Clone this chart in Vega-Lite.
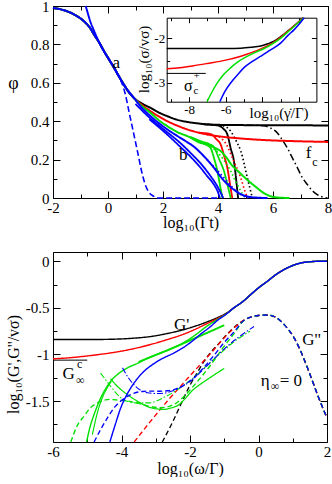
{
"$schema": "https://vega.github.io/schema/vega-lite/v6.json",
"background": "white",
"padding": {"left": 4, "top": -2, "right": 0, "bottom": 0},
"spacing": 20,
"config": {
  "font": "Liberation Serif",
  "view": {"stroke": "black", "strokeWidth": 1},
  "axis": {"labelFont": "Liberation Serif", "titleFont": "Liberation Serif", "labelColor": "black", "titleColor": "black", "tickColor": "black", "domainColor": "black", "grid": false, "labelFontSize": 15, "titleFontSize": 16, "titleFontWeight": "normal", "labelOverlap": false, "labelFlush": false, "labelBound": false, "tickWidth": 1, "domainWidth": 1},
  "text": {"font": "Liberation Serif", "color": "black"}
},
"datasets": {
  "phi": [
    {"set":"A","kind":"full","x":-2,"y":0.99},{"set":"A","kind":"full","x":-1.6,"y":0.978},{"set":"A","kind":"full","x":-1.36,"y":0.965},{"set":"A","kind":"full","x":-1.1,"y":0.945},{"set":"A","kind":"full","x":-0.87,"y":0.92},{"set":"A","kind":"full","x":-0.65,"y":0.885},{"set":"A","kind":"full","x":-0.51,"y":0.852},{"set":"A","kind":"full","x":-0.3,"y":0.805},{"set":"A","kind":"full","x":-0.145,"y":0.765},{"set":"A","kind":"full","x":0.05,"y":0.718},{"set":"A","kind":"full","x":0.22,"y":0.678},{"set":"A","kind":"full","x":0.4,"y":0.633},{"set":"A","kind":"full","x":0.58,"y":0.59},{"set":"A","kind":"full","x":0.75,"y":0.553},{"set":"A","kind":"full","x":0.95,"y":0.52},
    {"set":"A","kind":"full","x":1.2,"y":0.495},{"set":"A","kind":"full","x":1.55,"y":0.469},{"set":"A","kind":"full","x":1.85,"y":0.445},{"set":"A","kind":"full","x":2.16,"y":0.426},{"set":"A","kind":"full","x":2.5,"y":0.408},{"set":"A","kind":"full","x":2.89,"y":0.396},{"set":"A","kind":"full","x":3.3,"y":0.388},{"set":"A","kind":"full","x":3.61,"y":0.383},{"set":"A","kind":"full","x":4.5,"y":0.38},{"set":"A","kind":"full","x":6,"y":0.379},{"set":"A","kind":"full","x":8,"y":0.378},
    {"set":"A","kind":"thinB1","x":3.4,"y":0.385},{"set":"A","kind":"thinB1","x":3.98,"y":0.378},{"set":"A","kind":"thinB1","x":4.2,"y":0.36},{"set":"A","kind":"thinB1","x":4.34,"y":0.331},{"set":"A","kind":"thinB1","x":4.46,"y":0.26},{"set":"A","kind":"thinB1","x":4.58,"y":0.191},{"set":"A","kind":"thinB1","x":4.68,"y":0.07},{"set":"A","kind":"thinB1","x":4.73,"y":0},
    {"set":"A","kind":"dotted","x":3.6,"y":0.383},{"set":"A","kind":"dotted","x":4.2,"y":0.375},{"set":"A","kind":"dotted","x":4.46,"y":0.348},{"set":"A","kind":"dotted","x":4.65,"y":0.3},{"set":"A","kind":"dotted","x":4.83,"y":0.244},{"set":"A","kind":"dotted","x":5.07,"y":0.104},{"set":"A","kind":"dotted","x":5.18,"y":0.04},{"set":"A","kind":"dotted","x":5.25,"y":0},
    {"set":"A","kind":"dashdot","x":4.5,"y":0.38},{"set":"A","kind":"dashdot","x":5.3,"y":0.379},{"set":"A","kind":"dashdot","x":5.67,"y":0.376},{"set":"A","kind":"dashdot","x":5.9,"y":0.365},{"set":"A","kind":"dashdot","x":6.16,"y":0.339},{"set":"A","kind":"dashdot","x":6.35,"y":0.3},{"set":"A","kind":"dashdot","x":6.52,"y":0.261},{"set":"A","kind":"dashdot","x":6.7,"y":0.21},{"set":"A","kind":"dashdot","x":6.89,"y":0.157},{"set":"A","kind":"dashdot","x":7.05,"y":0.11},{"set":"A","kind":"dashdot","x":7.25,"y":0.07},{"set":"A","kind":"dashdot","x":7.45,"y":0.035},{"set":"A","kind":"dashdot","x":7.61,"y":0.018},{"set":"A","kind":"dashdot","x":7.8,"y":0.005},{"set":"A","kind":"dashdot","x":7.98,"y":0},
    {"set":"B","kind":"full","x":-2,"y":0.99},{"set":"B","kind":"full","x":-1.6,"y":0.978},{"set":"B","kind":"full","x":-1.36,"y":0.965},{"set":"B","kind":"full","x":-1.1,"y":0.945},{"set":"B","kind":"full","x":-0.87,"y":0.92},{"set":"B","kind":"full","x":-0.65,"y":0.885},{"set":"B","kind":"full","x":-0.51,"y":0.852},{"set":"B","kind":"full","x":-0.3,"y":0.805},{"set":"B","kind":"full","x":-0.145,"y":0.765},{"set":"B","kind":"full","x":0.05,"y":0.718},{"set":"B","kind":"full","x":0.22,"y":0.678},{"set":"B","kind":"full","x":0.4,"y":0.633},{"set":"B","kind":"full","x":0.58,"y":0.59},{"set":"B","kind":"full","x":0.75,"y":0.553},{"set":"B","kind":"full","x":0.95,"y":0.52},
    {"set":"B","kind":"full","x":1.2,"y":0.488},{"set":"B","kind":"full","x":1.55,"y":0.452},{"set":"B","kind":"full","x":1.85,"y":0.425},{"set":"B","kind":"full","x":2.16,"y":0.4},{"set":"B","kind":"full","x":2.5,"y":0.378},{"set":"B","kind":"full","x":2.89,"y":0.357},{"set":"B","kind":"full","x":3.25,"y":0.342},{"set":"B","kind":"full","x":3.61,"y":0.331},{"set":"B","kind":"full","x":4.1,"y":0.32},{"set":"B","kind":"full","x":4.58,"y":0.313},{"set":"B","kind":"full","x":5.2,"y":0.306},{"set":"B","kind":"full","x":5.8,"y":0.301},{"set":"B","kind":"full","x":6.8,"y":0.296},{"set":"B","kind":"full","x":8,"y":0.292},
    {"set":"B","kind":"thinB1","x":3.3,"y":0.34},{"set":"B","kind":"thinB1","x":3.73,"y":0.333},{"set":"B","kind":"thinB1","x":3.95,"y":0.305},{"set":"B","kind":"thinB1","x":4.1,"y":0.278},{"set":"B","kind":"thinB1","x":4.22,"y":0.22},{"set":"B","kind":"thinB1","x":4.34,"y":0.157},{"set":"B","kind":"thinB1","x":4.45,"y":0.06},{"set":"B","kind":"thinB1","x":4.52,"y":0},
    {"set":"B","kind":"dotted","x":3.6,"y":0.33},{"set":"B","kind":"dotted","x":4.0,"y":0.32},{"set":"B","kind":"dotted","x":4.3,"y":0.28},{"set":"B","kind":"dotted","x":4.55,"y":0.2},{"set":"B","kind":"dotted","x":4.83,"y":0.104},{"set":"B","kind":"dotted","x":4.97,"y":0.04},{"set":"B","kind":"dotted","x":5.07,"y":0},
    {"set":"C","kind":"full","x":-2,"y":0.99},{"set":"C","kind":"full","x":-1.6,"y":0.978},{"set":"C","kind":"full","x":-1.36,"y":0.965},{"set":"C","kind":"full","x":-1.1,"y":0.945},{"set":"C","kind":"full","x":-0.87,"y":0.92},{"set":"C","kind":"full","x":-0.65,"y":0.885},{"set":"C","kind":"full","x":-0.51,"y":0.852},{"set":"C","kind":"full","x":-0.3,"y":0.805},{"set":"C","kind":"full","x":-0.145,"y":0.765},{"set":"C","kind":"full","x":0.05,"y":0.718},{"set":"C","kind":"full","x":0.22,"y":0.678},{"set":"C","kind":"full","x":0.4,"y":0.633},{"set":"C","kind":"full","x":0.58,"y":0.59},{"set":"C","kind":"full","x":0.75,"y":0.553},{"set":"C","kind":"full","x":0.95,"y":0.52},
    {"set":"C","kind":"full","x":1.2,"y":0.482},{"set":"C","kind":"full","x":1.55,"y":0.443},{"set":"C","kind":"full","x":1.85,"y":0.405},{"set":"C","kind":"full","x":2.16,"y":0.374},{"set":"C","kind":"full","x":2.5,"y":0.345},{"set":"C","kind":"full","x":2.89,"y":0.322},{"set":"C","kind":"full","x":3.25,"y":0.3},{"set":"C","kind":"full","x":3.61,"y":0.278},{"set":"C","kind":"full","x":3.9,"y":0.26},{"set":"C","kind":"full","x":4.1,"y":0.244},{"set":"C","kind":"full","x":4.3,"y":0.212},{"set":"C","kind":"full","x":4.5,"y":0.172},{"set":"C","kind":"full","x":4.8,"y":0.13},{"set":"C","kind":"full","x":5.07,"y":0.094},{"set":"C","kind":"full","x":5.4,"y":0.055},{"set":"C","kind":"full","x":5.67,"y":0.025},{"set":"C","kind":"full","x":5.9,"y":0.01},{"set":"C","kind":"full","x":6.2,"y":0.002},{"set":"C","kind":"full","x":6.6,"y":0},
    {"set":"C","kind":"thinB1","x":3.0,"y":0.315},{"set":"C","kind":"thinB1","x":3.3,"y":0.29},{"set":"C","kind":"thinB1","x":3.6,"y":0.275},{"set":"C","kind":"thinB1","x":3.73,"y":0.261},{"set":"C","kind":"thinB1","x":3.87,"y":0.2},{"set":"C","kind":"thinB1","x":3.98,"y":0.139},{"set":"C","kind":"thinB1","x":4.08,"y":0.06},{"set":"C","kind":"thinB1","x":4.16,"y":0},
    {"set":"C","kind":"thinB2","x":3.0,"y":0.318},{"set":"C","kind":"thinB2","x":3.4,"y":0.295},{"set":"C","kind":"thinB2","x":3.7,"y":0.28},{"set":"C","kind":"thinB2","x":3.85,"y":0.265},{"set":"C","kind":"thinB2","x":4.05,"y":0.2},{"set":"C","kind":"thinB2","x":4.22,"y":0.139},{"set":"C","kind":"thinB2","x":4.36,"y":0.06},{"set":"C","kind":"thinB2","x":4.46,"y":0},
    {"set":"C","kind":"dotted","x":3.6,"y":0.28},{"set":"C","kind":"dotted","x":3.9,"y":0.25},{"set":"C","kind":"dotted","x":4.2,"y":0.2},{"set":"C","kind":"dotted","x":4.46,"y":0.14},{"set":"C","kind":"dotted","x":4.7,"y":0.07},{"set":"C","kind":"dotted","x":4.9,"y":0.02},{"set":"C","kind":"dotted","x":5.0,"y":0},
    {"set":"D","kind":"full","x":-2,"y":0.99},{"set":"D","kind":"full","x":-1.6,"y":0.978},{"set":"D","kind":"full","x":-1.36,"y":0.965},{"set":"D","kind":"full","x":-1.1,"y":0.945},{"set":"D","kind":"full","x":-0.87,"y":0.92},{"set":"D","kind":"full","x":-0.65,"y":0.885},{"set":"D","kind":"full","x":-0.51,"y":0.852},{"set":"D","kind":"full","x":-0.3,"y":0.805},{"set":"D","kind":"full","x":-0.145,"y":0.765},{"set":"D","kind":"full","x":0.05,"y":0.718},{"set":"D","kind":"full","x":0.22,"y":0.678},{"set":"D","kind":"full","x":0.4,"y":0.633},{"set":"D","kind":"full","x":0.58,"y":0.59},{"set":"D","kind":"full","x":0.75,"y":0.553},{"set":"D","kind":"full","x":0.95,"y":0.52},
    {"set":"D","kind":"full","x":1.2,"y":0.475},{"set":"D","kind":"full","x":1.55,"y":0.426},{"set":"D","kind":"full","x":1.85,"y":0.39},{"set":"D","kind":"full","x":2.16,"y":0.357},{"set":"D","kind":"full","x":2.5,"y":0.325},{"set":"D","kind":"full","x":2.89,"y":0.29},{"set":"D","kind":"full","x":3.1,"y":0.27},{"set":"D","kind":"full","x":3.37,"y":0.235},{"set":"D","kind":"full","x":3.6,"y":0.2},{"set":"D","kind":"full","x":3.85,"y":0.158},{"set":"D","kind":"full","x":4.1,"y":0.11},{"set":"D","kind":"full","x":4.34,"y":0.072},{"set":"D","kind":"full","x":4.58,"y":0.043},{"set":"D","kind":"full","x":4.83,"y":0.02},{"set":"D","kind":"full","x":5.07,"y":0.008},{"set":"D","kind":"full","x":5.4,"y":0.002},{"set":"D","kind":"full","x":5.8,"y":0},
    {"set":"D","kind":"thinA","x":-0.81,"y":1.0},{"set":"D","kind":"thinA","x":-0.73,"y":0.96},{"set":"D","kind":"thinA","x":-0.65,"y":0.922},{"set":"D","kind":"thinA","x":-0.52,"y":0.875},{"set":"D","kind":"thinA","x":-0.4,"y":0.835},{"set":"D","kind":"thinA","x":-0.25,"y":0.79},{"set":"D","kind":"thinA","x":-0.1,"y":0.752},{"set":"D","kind":"thinA","x":0.05,"y":0.72},{"set":"D","kind":"thinA","x":0.22,"y":0.678},{"set":"D","kind":"thinA","x":0.58,"y":0.59},{"set":"D","kind":"thinA","x":0.95,"y":0.52},
    {"set":"D","kind":"thinB1","x":1.0,"y":0.49},{"set":"D","kind":"thinB1","x":1.5,"y":0.42},{"set":"D","kind":"thinB1","x":2.0,"y":0.36},{"set":"D","kind":"thinB1","x":2.64,"y":0.285},{"set":"D","kind":"thinB1","x":3.0,"y":0.235},{"set":"D","kind":"thinB1","x":3.37,"y":0.18},{"set":"D","kind":"thinB1","x":3.7,"y":0.12},{"set":"D","kind":"thinB1","x":3.98,"y":0.06},{"set":"D","kind":"thinB1","x":4.19,"y":0},
    {"set":"D","kind":"thinB2","x":1.5,"y":0.41},{"set":"D","kind":"thinB2","x":2.0,"y":0.35},{"set":"D","kind":"thinB2","x":2.64,"y":0.265},{"set":"D","kind":"thinB2","x":3.0,"y":0.215},{"set":"D","kind":"thinB2","x":3.37,"y":0.157},{"set":"D","kind":"thinB2","x":3.6,"y":0.115},{"set":"D","kind":"thinB2","x":3.85,"y":0.07},{"set":"D","kind":"thinB2","x":4.0,"y":0.03},{"set":"D","kind":"thinB2","x":4.07,"y":0},
    {"set":"D","kind":"dotted","x":3.6,"y":0.2},{"set":"D","kind":"dotted","x":4.0,"y":0.14},{"set":"D","kind":"dotted","x":4.34,"y":0.085},{"set":"D","kind":"dotted","x":4.6,"y":0.045},{"set":"D","kind":"dotted","x":4.83,"y":0.018},{"set":"D","kind":"dotted","x":5.1,"y":0},
    {"set":"D","kind":"dashed","x":0.3,"y":0.655},{"set":"D","kind":"dashed","x":0.5,"y":0.6},{"set":"D","kind":"dashed","x":0.64,"y":0.535},{"set":"D","kind":"dashed","x":0.77,"y":0.445},{"set":"D","kind":"dashed","x":0.89,"y":0.365},{"set":"D","kind":"dashed","x":1.07,"y":0.244},{"set":"D","kind":"dashed","x":1.25,"y":0.122},{"set":"D","kind":"dashed","x":1.38,"y":0.06},{"set":"D","kind":"dashed","x":1.49,"y":0.03},{"set":"D","kind":"dashed","x":1.65,"y":0.01},{"set":"D","kind":"dashed","x":1.85,"y":0},{"set":"D","kind":"dashed","x":4.0,"y":0}
  ],
  "sigma": [
    {"set":"A","kind":"full","x":-9.22,"y":-2.226},{"set":"A","kind":"full","x":-8,"y":-2.226},{"set":"A","kind":"full","x":-7,"y":-2.226},{"set":"A","kind":"full","x":-6,"y":-2.225},{"set":"A","kind":"full","x":-5.17,"y":-2.22},{"set":"A","kind":"full","x":-4.6,"y":-2.2},{"set":"A","kind":"full","x":-4.08,"y":-2.17},{"set":"A","kind":"full","x":-3.7,"y":-2.12},{"set":"A","kind":"full","x":-3.36,"y":-2.06},{"set":"A","kind":"full","x":-3.0,"y":-1.96},{"set":"A","kind":"full","x":-2.62,"y":-1.835},{"set":"A","kind":"full","x":-2.2,"y":-1.69},{"set":"A","kind":"full","x":-1.79,"y":-1.53},
    {"set":"A","kind":"ref","x":-9.22,"y":-2.79},{"set":"A","kind":"ref","x":-7.09,"y":-2.79},
    {"set":"B","kind":"full","x":-9.22,"y":-2.686},{"set":"B","kind":"full","x":-8.5,"y":-2.66},{"set":"B","kind":"full","x":-7.8,"y":-2.62},{"set":"B","kind":"full","x":-7.0,"y":-2.565},{"set":"B","kind":"full","x":-6.0,"y":-2.49},{"set":"B","kind":"full","x":-5.17,"y":-2.4},{"set":"B","kind":"full","x":-4.6,"y":-2.32},{"set":"B","kind":"full","x":-4.08,"y":-2.235},{"set":"B","kind":"full","x":-3.7,"y":-2.16},{"set":"B","kind":"full","x":-3.36,"y":-2.08},{"set":"B","kind":"full","x":-3.0,"y":-1.975},{"set":"B","kind":"full","x":-2.62,"y":-1.84},{"set":"B","kind":"full","x":-2.2,"y":-1.69},{"set":"B","kind":"full","x":-1.77,"y":-1.53},
    {"set":"C","kind":"full","x":-7.02,"y":-3.43},{"set":"C","kind":"full","x":-6.8,"y":-3.25},{"set":"C","kind":"full","x":-6.45,"y":-3.0},{"set":"C","kind":"full","x":-6.1,"y":-2.81},{"set":"C","kind":"full","x":-5.72,"y":-2.66},{"set":"C","kind":"full","x":-5.3,"y":-2.52},{"set":"C","kind":"full","x":-4.81,"y":-2.4},{"set":"C","kind":"full","x":-4.35,"y":-2.31},{"set":"C","kind":"full","x":-3.9,"y":-2.226},{"set":"C","kind":"full","x":-3.45,"y":-2.12},{"set":"C","kind":"full","x":-2.99,"y":-1.99},{"set":"C","kind":"full","x":-2.6,"y":-1.85},{"set":"C","kind":"full","x":-2.2,"y":-1.7},{"set":"C","kind":"full","x":-1.74,"y":-1.53},
    {"set":"D","kind":"full","x":-6.32,"y":-3.43},{"set":"D","kind":"full","x":-6.05,"y":-3.2},{"set":"D","kind":"full","x":-5.72,"y":-3.0},{"set":"D","kind":"full","x":-5.35,"y":-2.82},{"set":"D","kind":"full","x":-5.0,"y":-2.66},{"set":"D","kind":"full","x":-4.55,"y":-2.52},{"set":"D","kind":"full","x":-4.08,"y":-2.4},{"set":"D","kind":"full","x":-3.55,"y":-2.26},{"set":"D","kind":"full","x":-2.99,"y":-2.1},{"set":"D","kind":"full","x":-2.6,"y":-1.93},{"set":"D","kind":"full","x":-2.26,"y":-1.8},{"set":"D","kind":"full","x":-2.0,"y":-1.68},{"set":"D","kind":"full","x":-1.77,"y":-1.56},{"set":"D","kind":"full","x":-1.72,"y":-1.53}
  ],
  "G": [
    {"set":"A","kind":"Gp","x":-6,"y":-0.84},{"set":"A","kind":"Gp","x":-5,"y":-0.84},{"set":"A","kind":"Gp","x":-4.2,"y":-0.836},{"set":"A","kind":"Gp","x":-3.63,"y":-0.825},{"set":"A","kind":"Gp","x":-3.1,"y":-0.805},{"set":"A","kind":"Gp","x":-2.66,"y":-0.775},{"set":"A","kind":"Gp","x":-2.2,"y":-0.735},{"set":"A","kind":"Gp","x":-1.88,"y":-0.7},{"set":"A","kind":"Gp","x":-1.5,"y":-0.65},{"set":"A","kind":"Gp","x":-1.2,"y":-0.605},{"set":"A","kind":"Gp","x":-0.95,"y":-0.56},
    {"set":"A","kind":"Gp","x":-0.72,"y":-0.5},{"set":"A","kind":"Gp","x":-0.45,"y":-0.43},{"set":"A","kind":"Gp","x":-0.23,"y":-0.358},{"set":"A","kind":"Gp","x":0,"y":-0.285},{"set":"A","kind":"Gp","x":0.26,"y":-0.214},{"set":"A","kind":"Gp","x":0.5,"y":-0.145},{"set":"A","kind":"Gp","x":0.74,"y":-0.09},{"set":"A","kind":"Gp","x":1.0,"y":-0.045},{"set":"A","kind":"Gp","x":1.23,"y":-0.018},{"set":"A","kind":"Gp","x":1.5,"y":-0.005},{"set":"A","kind":"Gp","x":1.72,"y":0},{"set":"A","kind":"Gp","x":2,"y":0},
    {"set":"A","kind":"Gpp","x":-2.81,"y":-1.94},{"set":"A","kind":"Gpp","x":-2.5,"y":-1.72},{"set":"A","kind":"Gpp","x":-2.27,"y":-1.537},{"set":"A","kind":"Gpp","x":-2.0,"y":-1.33},{"set":"A","kind":"Gpp","x":-1.78,"y":-1.19},{"set":"A","kind":"Gpp","x":-1.6,"y":-1.08},{"set":"A","kind":"Gpp","x":-1.4,"y":-0.98},{"set":"A","kind":"Gpp","x":-1.2,"y":-0.9},{"set":"A","kind":"Gpp","x":-0.91,"y":-0.78},{"set":"A","kind":"Gpp","x":-0.65,"y":-0.69},
    {"set":"A","kind":"Gpp","x":-0.42,"y":-0.632},{"set":"A","kind":"Gpp","x":-0.2,"y":-0.597},{"set":"A","kind":"Gpp","x":0,"y":-0.582},{"set":"A","kind":"Gpp","x":0.26,"y":-0.576},{"set":"A","kind":"Gpp","x":0.5,"y":-0.6},{"set":"A","kind":"Gpp","x":0.75,"y":-0.68},{"set":"A","kind":"Gpp","x":1.04,"y":-0.822},{"set":"A","kind":"Gpp","x":1.25,"y":-0.98},{"set":"A","kind":"Gpp","x":1.43,"y":-1.144},{"set":"A","kind":"Gpp","x":1.6,"y":-1.31},{"set":"A","kind":"Gpp","x":1.72,"y":-1.43},{"set":"A","kind":"Gpp","x":1.86,"y":-1.56},{"set":"A","kind":"Gpp","x":2,"y":-1.68},
    {"set":"A","kind":"ref","x":-6,"y":-1.061},{"set":"A","kind":"ref","x":-5.0,"y":-1.061},
    {"set":"B","kind":"Gp","x":-6,"y":-1.047},{"set":"B","kind":"Gp","x":-5.5,"y":-1.035},{"set":"B","kind":"Gp","x":-5.09,"y":-1.02},{"set":"B","kind":"Gp","x":-4.6,"y":-0.998},{"set":"B","kind":"Gp","x":-4.12,"y":-0.972},{"set":"B","kind":"Gp","x":-3.63,"y":-0.937},{"set":"B","kind":"Gp","x":-3.15,"y":-0.893},{"set":"B","kind":"Gp","x":-2.66,"y":-0.84},{"set":"B","kind":"Gp","x":-2.17,"y":-0.78},{"set":"B","kind":"Gp","x":-1.88,"y":-0.735},{"set":"B","kind":"Gp","x":-1.5,"y":-0.668},{"set":"B","kind":"Gp","x":-1.2,"y":-0.615},{"set":"B","kind":"Gp","x":-0.95,"y":-0.565},
    {"set":"B","kind":"Gp","x":-0.72,"y":-0.5},{"set":"B","kind":"Gp","x":-0.45,"y":-0.43},{"set":"B","kind":"Gp","x":-0.23,"y":-0.358},{"set":"B","kind":"Gp","x":0,"y":-0.285},{"set":"B","kind":"Gp","x":0.26,"y":-0.214},{"set":"B","kind":"Gp","x":0.5,"y":-0.145},{"set":"B","kind":"Gp","x":0.74,"y":-0.09},{"set":"B","kind":"Gp","x":1.0,"y":-0.045},{"set":"B","kind":"Gp","x":1.23,"y":-0.018},{"set":"B","kind":"Gp","x":1.5,"y":-0.005},{"set":"B","kind":"Gp","x":1.72,"y":0},{"set":"B","kind":"Gp","x":2,"y":0},
    {"set":"B","kind":"Gpp","x":-3.63,"y":-1.94},{"set":"B","kind":"Gpp","x":-3.2,"y":-1.74},{"set":"B","kind":"Gpp","x":-2.66,"y":-1.5},{"set":"B","kind":"Gpp","x":-2.2,"y":-1.31},{"set":"B","kind":"Gpp","x":-1.88,"y":-1.18},{"set":"B","kind":"Gpp","x":-1.69,"y":-1.105},{"set":"B","kind":"Gpp","x":-1.4,"y":-0.99},{"set":"B","kind":"Gpp","x":-1.2,"y":-0.905},{"set":"B","kind":"Gpp","x":-0.91,"y":-0.785},{"set":"B","kind":"Gpp","x":-0.65,"y":-0.695},
    {"set":"B","kind":"Gpp","x":-0.42,"y":-0.632},{"set":"B","kind":"Gpp","x":-0.2,"y":-0.597},{"set":"B","kind":"Gpp","x":0,"y":-0.582},{"set":"B","kind":"Gpp","x":0.26,"y":-0.576},{"set":"B","kind":"Gpp","x":0.5,"y":-0.6},{"set":"B","kind":"Gpp","x":0.75,"y":-0.68},{"set":"B","kind":"Gpp","x":1.04,"y":-0.822},{"set":"B","kind":"Gpp","x":1.25,"y":-0.98},{"set":"B","kind":"Gpp","x":1.43,"y":-1.144},{"set":"B","kind":"Gpp","x":1.6,"y":-1.31},{"set":"B","kind":"Gpp","x":1.72,"y":-1.43},{"set":"B","kind":"Gpp","x":1.86,"y":-1.56},{"set":"B","kind":"Gpp","x":2,"y":-1.68},
    {"set":"C","kind":"Gp","x":-5.02,"y":-1.94},{"set":"C","kind":"Gp","x":-4.92,"y":-1.78},{"set":"C","kind":"Gp","x":-4.8,"y":-1.644},{"set":"C","kind":"Gp","x":-4.61,"y":-1.47},{"set":"C","kind":"Gp","x":-4.45,"y":-1.36},{"set":"C","kind":"Gp","x":-4.32,"y":-1.29},{"set":"C","kind":"Gp","x":-4.1,"y":-1.21},{"set":"C","kind":"Gp","x":-3.83,"y":-1.145},{"set":"C","kind":"Gp","x":-3.5,"y":-1.09},{"set":"C","kind":"Gp","x":-3.24,"y":-1.04},{"set":"C","kind":"Gp","x":-2.9,"y":-0.99},{"set":"C","kind":"Gp","x":-2.56,"y":-0.94},{"set":"C","kind":"Gp","x":-2.17,"y":-0.87},{"set":"C","kind":"Gp","x":-1.88,"y":-0.8},{"set":"C","kind":"Gp","x":-1.5,"y":-0.695},{"set":"C","kind":"Gp","x":-1.2,"y":-0.625},{"set":"C","kind":"Gp","x":-0.95,"y":-0.568},
    {"set":"C","kind":"Gp","x":-0.72,"y":-0.5},{"set":"C","kind":"Gp","x":-0.45,"y":-0.43},{"set":"C","kind":"Gp","x":-0.23,"y":-0.358},{"set":"C","kind":"Gp","x":0,"y":-0.285},{"set":"C","kind":"Gp","x":0.26,"y":-0.214},{"set":"C","kind":"Gp","x":0.5,"y":-0.145},{"set":"C","kind":"Gp","x":0.74,"y":-0.09},{"set":"C","kind":"Gp","x":1.0,"y":-0.045},{"set":"C","kind":"Gp","x":1.23,"y":-0.018},{"set":"C","kind":"Gp","x":1.5,"y":-0.005},{"set":"C","kind":"Gp","x":1.72,"y":0},{"set":"C","kind":"Gp","x":2,"y":0},
    {"set":"C","kind":"Gpp","x":-5.48,"y":-1.94},{"set":"C","kind":"Gpp","x":-5.3,"y":-1.77},{"set":"C","kind":"Gpp","x":-5.09,"y":-1.66},{"set":"C","kind":"Gpp","x":-4.9,"y":-1.57},{"set":"C","kind":"Gpp","x":-4.7,"y":-1.52},{"set":"C","kind":"Gpp","x":-4.5,"y":-1.49},{"set":"C","kind":"Gpp","x":-4.32,"y":-1.483},{"set":"C","kind":"Gpp","x":-4.1,"y":-1.49},{"set":"C","kind":"Gpp","x":-3.83,"y":-1.5},{"set":"C","kind":"Gpp","x":-3.5,"y":-1.525},{"set":"C","kind":"Gpp","x":-3.24,"y":-1.552},{"set":"C","kind":"Gpp","x":-2.86,"y":-1.572},{"set":"C","kind":"Gpp","x":-2.47,"y":-1.537},{"set":"C","kind":"Gpp","x":-2.2,"y":-1.46},{"set":"C","kind":"Gpp","x":-1.9,"y":-1.34},{"set":"C","kind":"Gpp","x":-1.6,"y":-1.21},{"set":"C","kind":"Gpp","x":-1.3,"y":-1.065},{"set":"C","kind":"Gpp","x":-1.0,"y":-0.91},{"set":"C","kind":"Gpp","x":-0.72,"y":-0.78},
    {"set":"C","kind":"Gpp","x":-0.42,"y":-0.632},{"set":"C","kind":"Gpp","x":-0.2,"y":-0.597},{"set":"C","kind":"Gpp","x":0,"y":-0.582},{"set":"C","kind":"Gpp","x":0.26,"y":-0.576},{"set":"C","kind":"Gpp","x":0.5,"y":-0.6},{"set":"C","kind":"Gpp","x":0.75,"y":-0.68},{"set":"C","kind":"Gpp","x":1.04,"y":-0.822},{"set":"C","kind":"Gpp","x":1.25,"y":-0.98},{"set":"C","kind":"Gpp","x":1.43,"y":-1.144},{"set":"C","kind":"Gpp","x":1.6,"y":-1.31},{"set":"C","kind":"Gpp","x":1.72,"y":-1.43},{"set":"C","kind":"Gpp","x":1.86,"y":-1.56},{"set":"C","kind":"Gpp","x":2,"y":-1.68},
    {"set":"C","kind":"thinA","x":-3.5,"y":-1.08},{"set":"C","kind":"thinA","x":-2.5,"y":-0.93},{"set":"C","kind":"thinA","x":-1.88,"y":-0.83},{"set":"C","kind":"thinA","x":-1.0,"y":-0.686},
    {"set":"C","kind":"thinB","x":-4.32,"y":-1.26},{"set":"C","kind":"thinB","x":-4.1,"y":-1.35},{"set":"C","kind":"thinB","x":-3.83,"y":-1.43},{"set":"C","kind":"thinB","x":-3.5,"y":-1.51},{"set":"C","kind":"thinB","x":-3.24,"y":-1.56},{"set":"C","kind":"thinB","x":-2.96,"y":-1.585},{"set":"C","kind":"thinB","x":-2.76,"y":-1.59},{"set":"C","kind":"thinB","x":-2.56,"y":-1.575},{"set":"C","kind":"thinB","x":-2.37,"y":-1.55},{"set":"C","kind":"thinB","x":-1.88,"y":-1.37},{"set":"C","kind":"thinB","x":-1.5,"y":-1.27},{"set":"C","kind":"thinB","x":-1.0,"y":-1.15},
    {"set":"C","kind":"thinC","x":-4.85,"y":-1.86},{"set":"C","kind":"thinC","x":-4.7,"y":-1.62},{"set":"C","kind":"thinC","x":-4.56,"y":-1.465},{"set":"C","kind":"thinC","x":-4.42,"y":-1.36},{"set":"C","kind":"thinC","x":-4.3,"y":-1.29},
    {"set":"C","kind":"ddthin","x":-4.61,"y":-1.2},{"set":"C","kind":"ddthin","x":-4.3,"y":-1.35},{"set":"C","kind":"ddthin","x":-4.02,"y":-1.465},{"set":"C","kind":"ddthin","x":-3.6,"y":-1.52},{"set":"C","kind":"ddthin","x":-3.2,"y":-1.52},{"set":"C","kind":"ddthin","x":-2.7,"y":-1.45},{"set":"C","kind":"ddthin","x":-2.0,"y":-1.28},{"set":"C","kind":"ddthin","x":-1.3,"y":-1.05},{"set":"C","kind":"ddthin","x":-0.7,"y":-0.86},{"set":"C","kind":"ddthin","x":-0.25,"y":-0.75},
    {"set":"D","kind":"Gp","x":-4.34,"y":-1.94},{"set":"D","kind":"Gp","x":-4.18,"y":-1.75},{"set":"D","kind":"Gp","x":-4.02,"y":-1.572},{"set":"D","kind":"Gp","x":-3.87,"y":-1.45},{"set":"D","kind":"Gp","x":-3.73,"y":-1.36},{"set":"D","kind":"Gp","x":-3.55,"y":-1.265},{"set":"D","kind":"Gp","x":-3.34,"y":-1.18},{"set":"D","kind":"Gp","x":-3.1,"y":-1.11},{"set":"D","kind":"Gp","x":-2.86,"y":-1.055},{"set":"D","kind":"Gp","x":-2.37,"y":-0.965},{"set":"D","kind":"Gp","x":-1.98,"y":-0.87},{"set":"D","kind":"Gp","x":-1.7,"y":-0.785},{"set":"D","kind":"Gp","x":-1.4,"y":-0.7},{"set":"D","kind":"Gp","x":-1.2,"y":-0.635},{"set":"D","kind":"Gp","x":-0.95,"y":-0.57},
    {"set":"D","kind":"Gp","x":-0.72,"y":-0.5},{"set":"D","kind":"Gp","x":-0.45,"y":-0.43},{"set":"D","kind":"Gp","x":-0.23,"y":-0.358},{"set":"D","kind":"Gp","x":0,"y":-0.285},{"set":"D","kind":"Gp","x":0.26,"y":-0.214},{"set":"D","kind":"Gp","x":0.5,"y":-0.145},{"set":"D","kind":"Gp","x":0.74,"y":-0.09},{"set":"D","kind":"Gp","x":1.0,"y":-0.045},{"set":"D","kind":"Gp","x":1.23,"y":-0.018},{"set":"D","kind":"Gp","x":1.5,"y":-0.005},{"set":"D","kind":"Gp","x":1.72,"y":0},{"set":"D","kind":"Gp","x":2,"y":0},
    {"set":"D","kind":"Gpp","x":-4.8,"y":-1.94},{"set":"D","kind":"Gpp","x":-4.6,"y":-1.8},{"set":"D","kind":"Gpp","x":-4.41,"y":-1.68},{"set":"D","kind":"Gpp","x":-4.2,"y":-1.565},{"set":"D","kind":"Gpp","x":-4.02,"y":-1.5},{"set":"D","kind":"Gpp","x":-3.8,"y":-1.445},{"set":"D","kind":"Gpp","x":-3.63,"y":-1.415},{"set":"D","kind":"Gpp","x":-3.4,"y":-1.398},{"set":"D","kind":"Gpp","x":-3.15,"y":-1.393},{"set":"D","kind":"Gpp","x":-2.9,"y":-1.395},{"set":"D","kind":"Gpp","x":-2.66,"y":-1.39},{"set":"D","kind":"Gpp","x":-2.37,"y":-1.365},{"set":"D","kind":"Gpp","x":-2.1,"y":-1.31},{"set":"D","kind":"Gpp","x":-1.88,"y":-1.25},{"set":"D","kind":"Gpp","x":-1.6,"y":-1.14},{"set":"D","kind":"Gpp","x":-1.3,"y":-1.01},{"set":"D","kind":"Gpp","x":-1.0,"y":-0.87},{"set":"D","kind":"Gpp","x":-0.72,"y":-0.76},
    {"set":"D","kind":"Gpp","x":-0.42,"y":-0.632},{"set":"D","kind":"Gpp","x":-0.2,"y":-0.597},{"set":"D","kind":"Gpp","x":0,"y":-0.582},{"set":"D","kind":"Gpp","x":0.26,"y":-0.576},{"set":"D","kind":"Gpp","x":0.5,"y":-0.6},{"set":"D","kind":"Gpp","x":0.75,"y":-0.68},{"set":"D","kind":"Gpp","x":1.04,"y":-0.822},{"set":"D","kind":"Gpp","x":1.25,"y":-0.98},{"set":"D","kind":"Gpp","x":1.43,"y":-1.144},{"set":"D","kind":"Gpp","x":1.6,"y":-1.31},{"set":"D","kind":"Gpp","x":1.72,"y":-1.43},{"set":"D","kind":"Gpp","x":1.86,"y":-1.56},{"set":"D","kind":"Gpp","x":2,"y":-1.68},
    {"set":"D","kind":"ddthin","x":-3.97,"y":-1.144},{"set":"D","kind":"ddthin","x":-3.8,"y":-1.25},{"set":"D","kind":"ddthin","x":-3.6,"y":-1.34},{"set":"D","kind":"ddthin","x":-3.24,"y":-1.411},{"set":"D","kind":"ddthin","x":-2.9,"y":-1.42},{"set":"D","kind":"ddthin","x":-2.5,"y":-1.39},{"set":"D","kind":"ddthin","x":-2.0,"y":-1.29},{"set":"D","kind":"ddthin","x":-1.5,"y":-1.12},{"set":"D","kind":"ddthin","x":-1.0,"y":-0.94},{"set":"D","kind":"ddthin","x":-0.6,"y":-0.82},{"set":"D","kind":"ddthin","x":-0.13,"y":-0.7}
  ],
  "topText": [
    {"t":"a","role":"main","x":0.16,"y":0.705},{"t":"b","role":"main","x":2.58,"y":0.223},{"t":"f","role":"main","x":7.19,"y":0.233},{"t":"c","role":"sub","x":7.43,"y":0.19}
  ],
  "insetText": [
    {"t":"σ","role":"main","x":-8.27,"y":-3.077},{"t":"c","role":"sub","x":-7.76,"y":-3.19},{"t":"+","role":"sub","x":-7.76,"y":-2.85}
  ],
  "botText": [
    {"t":"G'","role":"main","x":-2.47,"y":-0.68},{"t":"G''","role":"main","x":1.28,"y":-0.84},{"t":"G","role":"main","x":-5.72,"y":-1.215},{"t":"η","role":"main","x":0.065,"y":-1.283},{"t":"= 0","role":"main","x":0.62,"y":-1.283},
    {"t":"c","role":"sub","x":-5.3,"y":-1.1},{"t":"∞","role":"sub","x":-5.33,"y":-1.275},{"t":"∞","role":"sub","x":0.36,"y":-1.337}
  ]
},
"vconcat": [
  {
    "width": 275, "height": 192,
    "layer": [
      {
        "layer": [
          {
            "data": {"name": "phi"},
            "mark": {"type": "line", "interpolate": "monotone", "strokeCap": "butt"},
            "encoding": {
              "x": {"field": "x", "type": "quantitative", "scale": {"domain": [-2, 8], "nice": false, "zero": false},
                "axis": {"orient": "bottom", "values": [-2,-1,0,1,2,3,4,5,6,7,8], "domain": false,
                  "tickSize": {"condition": {"test": "datum.value % 2 === 0", "value": -7}, "value": -4},
                  "labelExpr": "datum.value % 2 === 0 ? replace(format(datum.value, ''), '\u2212', '-') : ''",
                  "labelPadding": 9, "title": "log₁₀(Γt)", "titleY": 24, "titleBaseline": "middle"}},
              "y": {"field": "y", "type": "quantitative", "scale": {"domain": [0, 1], "nice": false, "zero": false},
                "axis": {"orient": "left", "values": [0,0.1,0.2,0.3,0.4,0.5,0.6,0.7,0.8,0.9,1], "domain": false,
                  "tickSize": {"condition": {"test": "round(datum.value*10) % 2 === 0", "value": -7}, "value": -4},
                  "labelExpr": "round(datum.value*10) % 2 === 0 ? format(datum.value, '') : ''",
                  "labelPadding": 11, "title": "φ", "titleAngle": 0, "titleX": -40, "titleY": 77, "titleAlign": "center", "titleBaseline": "middle", "titleFontSize": 18}},
              "color": {"field": "set", "type": "nominal", "scale": {"domain": ["A","B","C","D"], "range": ["#000000","#ff0000","#00e000","#0000ff"]}, "legend": null},
              "strokeDash": {"field": "kind", "type": "nominal", "scale": {"domain": ["full","thinA","thinB1","thinB2","dotted","dashed","dashdot","Gp","Gpp","thinB","thinC","ddthin","ref"], "range": [[1,0],[1,0],[1,0],[1,0],[1.5,2.5],[6,3],[7,3,1.5,3],[1,0],[5,3],[1,0],[1,0],[6,2,1.5,2],[1,0]]}, "legend": null},
              "strokeWidth": {"field": "kind", "type": "ordinal", "scale": {"domain": ["full","thinA","thinB1","thinB2","dotted","dashed","dashdot","Gp","Gpp","thinB","thinC","ddthin","ref"], "range": [2,1,1,1,1.5,2,1.3,2,2,1,1,1,1]}, "legend": null}
            }
          },
          {
            "data": {"name": "phi"},
            "mark": {"type": "point", "opacity": 0},
            "encoding": {
              "x": {"field": "x", "type": "quantitative",
                "axis": {"orient": "top", "values": [-2,-1,0,1,2,3,4,5,6,7,8], "domain": false, "labels": false, "title": null,
                  "tickSize": {"condition": {"test": "datum.value % 2 === 0", "value": -7}, "value": -4}}},
              "y": {"field": "y", "type": "quantitative",
                "axis": {"orient": "right", "values": [0,0.1,0.2,0.3,0.4,0.5,0.6,0.7,0.8,0.9,1], "domain": false, "labels": false, "title": null,
                  "tickSize": {"condition": {"test": "round(datum.value*10) % 2 === 0", "value": -7}, "value": -4}}}
            }
          },
          {
            "data": {"name": "topText"},
            "transform": [{"filter": "datum.role == 'main'"}],
            "mark": {"type": "text", "align": "left", "baseline": "middle", "fontSize": 17},
            "encoding": {
              "x": {"field": "x", "type": "quantitative", "axis": null},
              "y": {"field": "y", "type": "quantitative", "axis": null},
              "text": {"field": "t"}
            }
          },
          {
            "data": {"name": "topText"},
            "transform": [{"filter": "datum.role == 'sub'"}],
            "mark": {"type": "text", "align": "left", "baseline": "middle", "fontSize": 12},
            "encoding": {
              "x": {"field": "x", "type": "quantitative", "axis": null},
              "y": {"field": "y", "type": "quantitative", "axis": null},
              "text": {"field": "t"}
            }
          }
        ],
        "resolve": {"axis": {"x": "independent", "y": "independent"}}
      },
      {
        "layer": [
          {
            "data": {"name": "sigma"},
            "transform": [{"filter": "datum.kind == 'full'"}],
            "mark": {"type": "line", "interpolate": "monotone", "strokeWidth": 1.5},
            "encoding": {
              "x": {"field": "x", "type": "quantitative", "scale": {"domain": [-9.22, -1.05], "range": [113.7, 263.4], "nice": false, "zero": false},
                "axis": {"orient": "bottom", "offset": -96.3, "values": [-9,-8,-7,-6,-5,-4,-3,-2], "domain": true,
                  "tickSize": {"condition": {"test": "datum.value % 2 === 0", "value": -5}, "value": -3},
                  "labelExpr": "datum.value == -8 || datum.value == -6 ? replace(format(datum.value, ''), '\u2212', '-') : ''",
                  "labelFontSize": 13, "labelPadding": 7,
                  "title": "log₁₀(γ̇/Γ)", "titleFontSize": 15, "titleX": 196, "titleY": 11, "titleAlign": "left", "titleBaseline": "middle"}},
              "y": {"field": "y", "type": "quantitative", "scale": {"domain": [-3.43, -1.53], "range": [95.7, 11.7], "nice": false, "zero": false},
                "axis": {"orient": "left", "offset": -113.7, "values": [-3,-2.5,-2], "domain": true,
                  "tickSize": {"condition": {"test": "datum.value % 1 === 0", "value": -5}, "value": -3},
                  "labelExpr": "datum.value % 1 === 0 ? replace(format(datum.value, ''), '\u2212', '-') : ''",
                  "labelFontSize": 13, "labelPadding": 7,
                  "title": "log₁₀(σ/vσ)", "titleFontSize": 15, "titleAngle": 270, "titleX": -23, "titleY": 53, "titleAlign": "center", "titleBaseline": "middle"}},
              "color": {"field": "set", "type": "nominal", "legend": null}
            }
          },
          {
            "data": {"name": "sigma"},
            "transform": [{"filter": "datum.kind == 'ref'"}],
            "mark": {"type": "line", "strokeWidth": 1, "color": "black"},
            "encoding": {
              "x": {"field": "x", "type": "quantitative", "axis": null},
              "y": {"field": "y", "type": "quantitative", "axis": null}
            }
          },
          {
            "data": {"name": "sigma"},
            "mark": {"type": "point", "opacity": 0},
            "encoding": {
              "x": {"field": "x", "type": "quantitative",
                "axis": {"orient": "top", "offset": -11.7, "values": [-9,-8,-7,-6,-5,-4,-3,-2], "domain": true, "labels": false, "title": null,
                  "tickSize": {"condition": {"test": "datum.value % 2 === 0", "value": -5}, "value": -3}}},
              "y": {"field": "y", "type": "quantitative",
                "axis": {"orient": "right", "offset": -11.6, "values": [-3,-2.5,-2], "domain": true, "labels": false, "title": null,
                  "tickSize": {"condition": {"test": "datum.value % 1 === 0", "value": -5}, "value": -3}}}
            }
          },
          {
            "data": {"name": "insetText"},
            "transform": [{"filter": "datum.role == 'main'"}],
            "mark": {"type": "text", "align": "left", "baseline": "middle", "fontSize": 16},
            "encoding": {
              "x": {"field": "x", "type": "quantitative", "axis": null},
              "y": {"field": "y", "type": "quantitative", "axis": null},
              "text": {"field": "t"}
            }
          },
          {
            "data": {"name": "insetText"},
            "transform": [{"filter": "datum.role == 'sub'"}],
            "mark": {"type": "text", "align": "left", "baseline": "middle", "fontSize": 11},
            "encoding": {
              "x": {"field": "x", "type": "quantitative", "axis": null},
              "y": {"field": "y", "type": "quantitative", "axis": null},
              "text": {"field": "t"}
            }
          }
        ],
        "resolve": {"axis": {"x": "independent", "y": "independent"}}
      }
    ],
    "resolve": {"scale": {"x": "independent", "y": "independent"}}
  },
  {
    "width": 274, "height": 190,
    "layer": [
      {
        "data": {"name": "G"},
        "mark": {"type": "line", "interpolate": "monotone", "strokeCap": "butt"},
        "encoding": {
          "x": {"field": "x", "type": "quantitative", "scale": {"domain": [-6, 2], "nice": false, "zero": false},
            "axis": {"orient": "bottom", "values": [-6,-5,-4,-3,-2,-1,0,1,2], "domain": false,
              "tickSize": {"condition": {"test": "datum.value % 2 === 0", "value": -7}, "value": -4},
              "labelExpr": "datum.value % 2 === 0 ? replace(format(datum.value, ''), '\u2212', '-') : ''",
              "labelPadding": 9, "title": "log₁₀(ω/Γ)", "titleY": 26, "titleBaseline": "middle"}},
          "y": {"field": "y", "type": "quantitative", "scale": {"domain": [-1.94, 0.1], "nice": false, "zero": false},
            "axis": {"orient": "left", "values": [-1.75,-1.5,-1.25,-1,-0.75,-0.5,-0.25,0], "domain": false,
              "tickSize": {"condition": {"test": "(datum.value*2) % 1 === 0", "value": -7}, "value": -4},
              "labelExpr": "(datum.value*2) % 1 === 0 ? replace(format(datum.value, ''), '\u2212', '-') : ''",
              "labelPadding": 11, "title": "log₁₀(G',G''/vσ)", "titleAngle": 270, "titleX": -40, "titleY": 112, "titleAlign": "center", "titleBaseline": "middle"}},
          "color": {"field": "set", "type": "nominal", "scale": {"domain": ["A","B","C","D"], "range": ["#000000","#ff0000","#00e000","#0000ff"]}, "legend": null},
          "strokeDash": {"field": "kind", "type": "nominal", "scale": {"domain": ["full","thinA","thinB1","thinB2","dotted","dashed","dashdot","Gp","Gpp","thinB","thinC","ddthin","ref"], "range": [[1,0],[1,0],[1,0],[1,0],[1.5,2.5],[6,3],[7,3,1.5,3],[1,0],[5,3],[1,0],[1,0],[6,2,1.5,2],[1,0]]}, "legend": null},
          "strokeWidth": {"field": "kind", "type": "ordinal", "scale": {"domain": ["full","thinA","thinB1","thinB2","dotted","dashed","dashdot","Gp","Gpp","thinB","thinC","ddthin","ref"], "range": [2,1,1,1,1.5,2,1.3,2,2,1,1,1,1]}, "legend": null}
        }
      },
      {
        "data": {"name": "G"},
        "mark": {"type": "point", "opacity": 0},
        "encoding": {
          "x": {"field": "x", "type": "quantitative",
            "axis": {"orient": "top", "values": [-6,-5,-4,-3,-2,-1,0,1,2], "domain": false, "labels": false, "title": null,
              "tickSize": {"condition": {"test": "datum.value % 2 === 0", "value": -7}, "value": -4}}},
          "y": {"field": "y", "type": "quantitative",
            "axis": {"orient": "right", "values": [-1.75,-1.5,-1.25,-1,-0.75,-0.5,-0.25,0], "domain": false, "labels": false, "title": null,
              "tickSize": {"condition": {"test": "(datum.value*2) % 1 === 0", "value": -7}, "value": -4}}}
        }
      },
      {
        "data": {"name": "botText"},
        "transform": [{"filter": "datum.role == 'main'"}],
        "mark": {"type": "text", "align": "left", "baseline": "middle", "fontSize": 17},
        "encoding": {
          "x": {"field": "x", "type": "quantitative", "axis": null},
          "y": {"field": "y", "type": "quantitative", "axis": null},
          "text": {"field": "t"}
        }
      },
      {
        "data": {"name": "botText"},
        "transform": [{"filter": "datum.role == 'sub'"}],
        "mark": {"type": "text", "align": "left", "baseline": "middle", "fontSize": 12},
        "encoding": {
          "x": {"field": "x", "type": "quantitative", "axis": null},
          "y": {"field": "y", "type": "quantitative", "axis": null},
          "text": {"field": "t"}
        }
      }
    ],
    "resolve": {"axis": {"x": "independent", "y": "independent"}}
  }
]
}
